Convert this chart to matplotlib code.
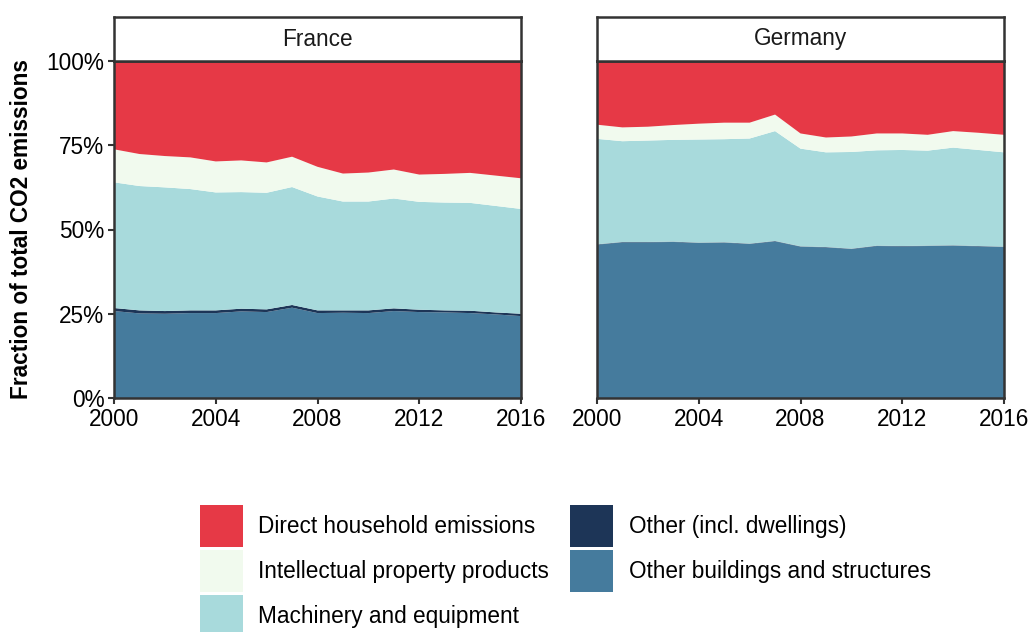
import numpy as np
import matplotlib
matplotlib.use('Agg')
import matplotlib.pyplot as plt
from matplotlib.patches import Patch

plt.rcParams['font.family'] = ['Liberation Sans', 'DejaVu Sans']

years = list(range(2000, 2017))
countries = ['France', 'Germany']

# shares in percent, stacked bottom to top
france_other_buildings = [25.8, 25.1, 25.0, 25.2, 25.2, 25.7, 25.5, 26.8, 25.2, 25.3, 25.2, 25.8, 25.5, 25.4, 25.2, 24.8, 24.3]
france_other_dwellings = [0.9, 0.9, 0.8, 0.8, 0.8, 0.8, 0.8, 0.8, 0.8, 0.7, 0.8, 0.8, 0.7, 0.6, 0.7, 0.6, 0.7]
france_machinery = [37.3, 36.9, 36.7, 36.0, 35.0, 34.6, 34.6, 35.0, 33.8, 32.3, 32.3, 32.6, 32.0, 32.0, 32.0, 31.6, 31.1]
france_ip = [9.8, 9.5, 9.3, 9.4, 9.2, 9.4, 9.0, 9.0, 8.8, 8.3, 8.6, 8.6, 8.1, 8.5, 8.9, 9.0, 9.1]
france_household = [26.2, 27.6, 28.2, 28.6, 29.8, 29.5, 30.1, 28.4, 31.4, 33.4, 33.1, 32.2, 33.7, 33.5, 33.2, 34.0, 34.8]

germany_other_buildings = [45.5, 46.2, 46.2, 46.3, 46.0, 46.1, 45.7, 46.5, 44.9, 44.7, 44.2, 45.1, 45.0, 45.1, 45.2, 45.0, 44.8]
germany_other_dwellings = [0.1] * 17
germany_machinery = [31.3, 29.9, 30.1, 30.2, 30.6, 30.6, 31.2, 32.6, 29.0, 28.1, 28.7, 28.3, 28.5, 28.2, 29.0, 28.5, 28.0]
germany_ip = [4.2, 4.1, 4.1, 4.4, 4.7, 4.9, 4.7, 4.9, 4.5, 4.4, 4.6, 5.0, 4.9, 4.7, 4.9, 5.1, 5.2]
germany_household = [18.9, 19.7, 19.5, 19.0, 18.6, 18.3, 18.3, 15.9, 21.5, 22.7, 22.4, 21.5, 21.5, 21.9, 20.8, 21.3, 21.9]

series_labels = ['Other buildings and structures', 'Other (incl. dwellings)', 'Machinery and equipment',
                 'Intellectual property products', 'Direct household emissions']
colors = ['#457B9D', '#1D3557', '#A8DADC', '#F1FAEE', '#E63946']

data = {
    'France': [france_other_buildings, france_other_dwellings, france_machinery, france_ip, france_household],
    'Germany': [germany_other_buildings, germany_other_dwellings, germany_machinery, germany_ip, germany_household],
}

W, H = 1033, 632
fs = 16.3
fig = plt.figure(figsize=(W / 100, H / 100), dpi=100)
edge = '#333333'
panel_left = [114, 597]
panel_w = 407
panel_top, panel_bot = 61, 398
strip_top = 17

for i, country in enumerate(countries):
    ax = fig.add_axes([panel_left[i] / W, 1 - panel_bot / H, panel_w / W, (panel_bot - panel_top) / H])
    vals = np.array(data[country], dtype=float)
    vals = vals / vals.sum(axis=0) * 100
    ax.stackplot(years, vals, colors=colors, linewidth=0)
    ax.set_xlim(2000, 2016)
    ax.set_ylim(0, 100)
    ax.set_xticks([2000, 2004, 2008, 2012, 2016])
    ax.set_yticks([0, 25, 50, 75, 100])
    ax.set_yticklabels(['0%', '25%', '50%', '75%', '100%'])
    for s in ax.spines.values():
        s.set_color(edge)
        s.set_linewidth(1.8)
    ax.tick_params(colors=edge, labelcolor='black', labelsize=fs, length=4.5, width=1.5, pad=2.5)
    if i == 1:
        ax.tick_params(axis='y', left=False, labelleft=False)

    # facet strip
    sax = fig.add_axes([panel_left[i] / W, 1 - panel_top / H, panel_w / W, (panel_top - strip_top) / H])
    sax.set_xticks([])
    sax.set_yticks([])
    for s in sax.spines.values():
        s.set_color(edge)
        s.set_linewidth(1.8)
    sax.text(0.5, 0.5, country, ha='center', va='center', fontsize=fs, color='#1a1a1a', transform=sax.transAxes)

fig.text(22 / W, 1 - 229 / H, 'Fraction of total CO2 emissions', rotation=90, ha='center', va='center',
         fontsize=fs, fontweight='bold')

handles = [Patch(facecolor=colors[k], edgecolor='none') for k in [4, 3, 2, 1, 0]]
labels = [series_labels[k] for k in [4, 3, 2, 1, 0]]
fig.legend(handles, labels, loc='upper left', bbox_to_anchor=(200 / W, 1 - 505 / H), ncol=2,
           frameon=False, fontsize=fs, borderpad=0, borderaxespad=0,
           handlelength=1.9, handleheight=2.48, handletextpad=0.68, labelspacing=0.13, columnspacing=0.93)

fig.savefig('out.png', dpi=100, facecolor='white')
